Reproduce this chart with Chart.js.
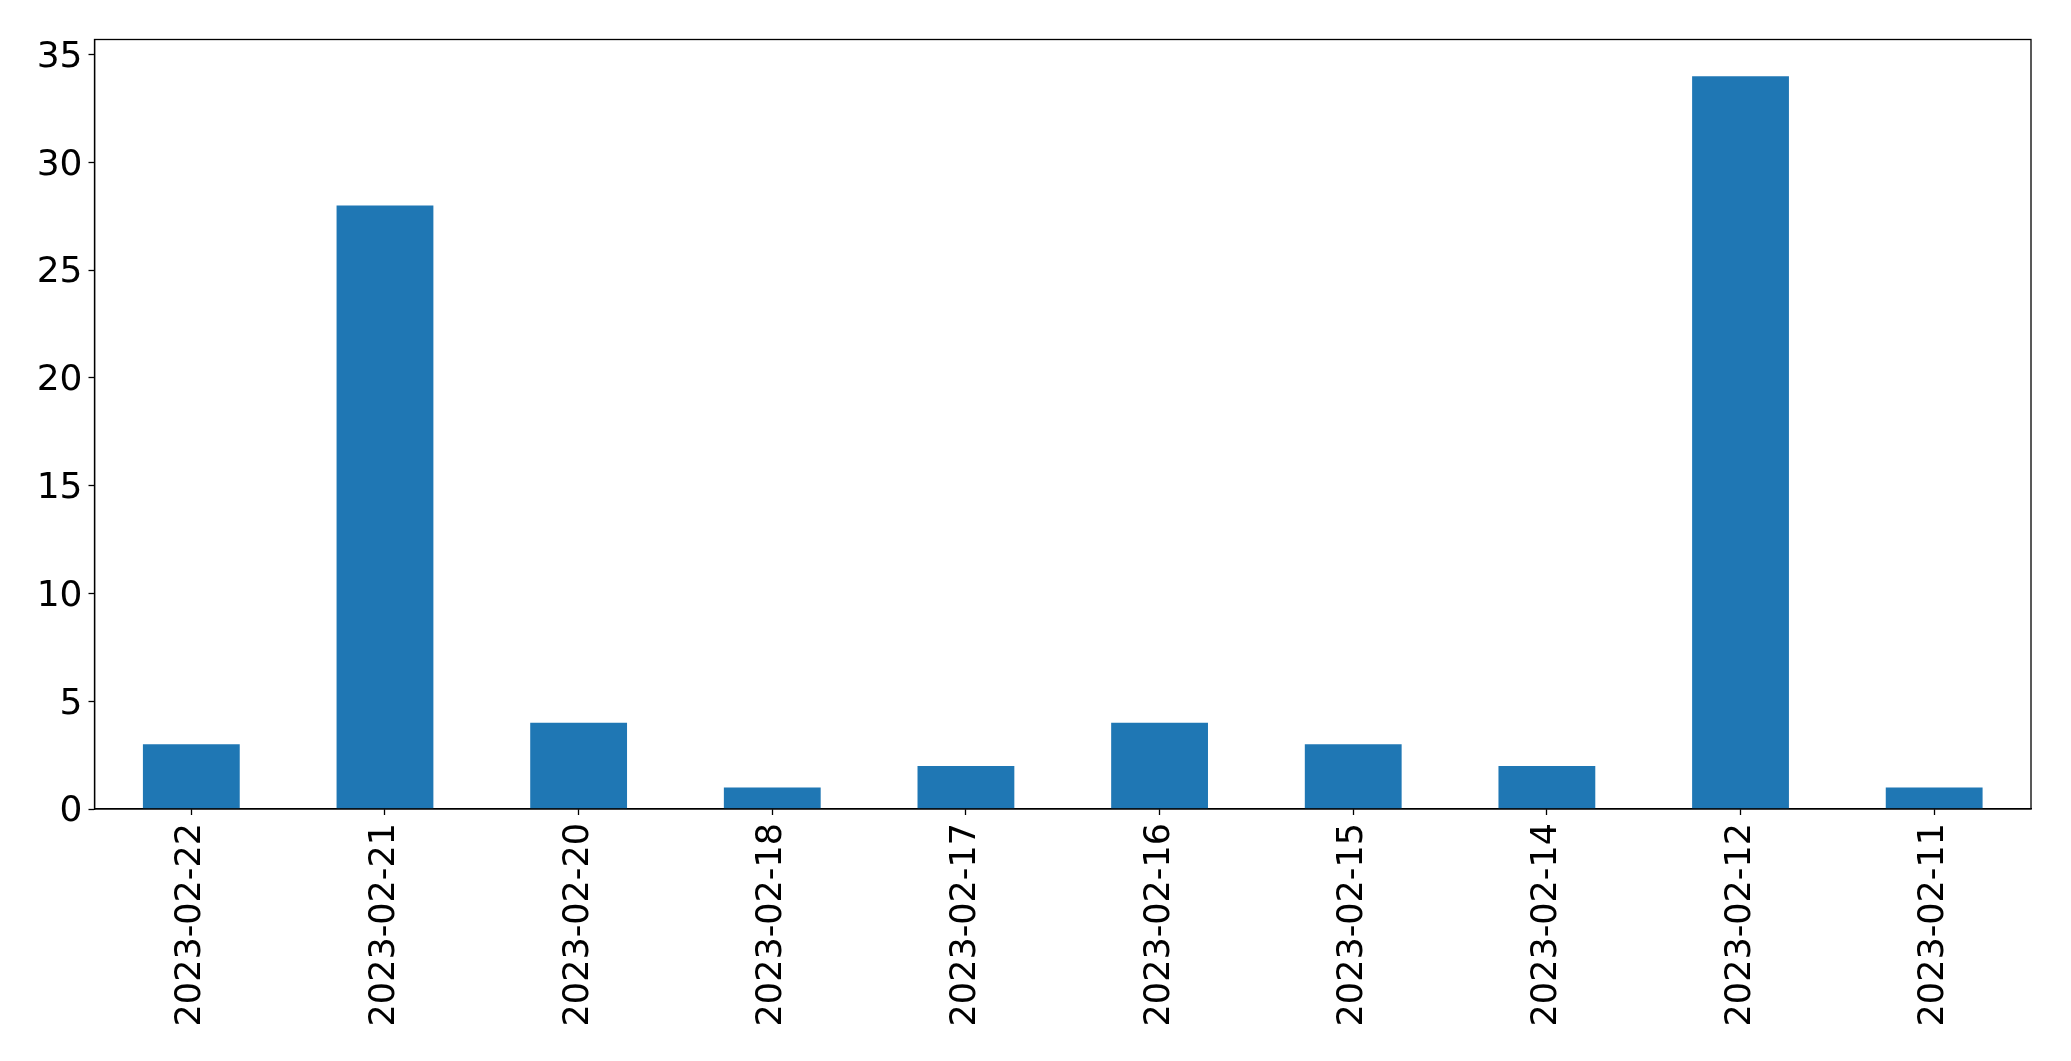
<!DOCTYPE html>
<html>
<head>
<meta charset="utf-8">
<script src="https://cdn.jsdelivr.net/npm/chart.js@4"></script>
<style>
html,body{margin:0;padding:0;background:#fff;}
#wrap{width:2071px;height:1061px;position:relative;}
</style>
</head>
<body>
<div id="wrap"><canvas id="c" width="2071" height="1061"></canvas></div>
<script>
const categories = ["2023-02-22","2023-02-21","2023-02-20","2023-02-18","2023-02-17","2023-02-16","2023-02-15","2023-02-14","2023-02-12","2023-02-11"];
const counts = [3, 28, 4, 1, 2, 4, 3, 2, 34, 1];
const yTicks = [0, 5, 10, 15, 20, 25, 30, 35];
const yMax = 35.7;

const frame = {
  id: 'frame',
  afterDraw(chart) {
    const a = chart.chartArea, ctx = chart.ctx;
    ctx.save();
    ctx.strokeStyle = '#000';
    ctx.lineWidth = 1.3;
    ctx.strokeRect(a.left, a.top, a.right - a.left, a.bottom - a.top);
    ctx.restore();
  }
};

new Chart(document.getElementById('c'), {
  type: 'bar',
  data: {
    labels: categories,
    datasets: [{
      data: counts,
      backgroundColor: '#1f77b4',
      borderWidth: 0,
      barPercentage: 0.5,
      categoryPercentage: 1.0
    }]
  },
  options: {
    responsive: false,
    animation: false,
    devicePixelRatio: 1,
    layout: { padding: { left: 0, top: 39.5, right: 40, bottom: 0 } },
    plugins: { legend: { display: false }, tooltip: { enabled: false } },
    scales: {
      x: {
        offset: true,
        grid: { display: true, drawOnChartArea: false, drawTicks: true, tickLength: 6, tickColor: '#000', offset: false, tickWidth: 1.3 },
        border: { display: true, color: '#000', width: 1.3 },
        ticks: {
          minRotation: 90, maxRotation: 90, autoSkip: false,
          color: '#000', padding: 8,
          font: { family: 'DejaVu Sans', size: 35 }
        },
        afterFit(s) { s.height = 252; }
      },
      y: {
        min: 0, max: yMax,
        grid: { display: true, drawOnChartArea: false, drawTicks: true, tickLength: 6, tickColor: '#000', tickWidth: 1.3 },
        border: { display: true, color: '#000', width: 1.3 },
        ticks: {
          color: '#000', padding: 6, stepSize: 5, labelOffset: 3,
          font: { family: 'DejaVu Sans', size: 36 }
        },
        afterBuildTicks(s) { s.ticks = yTicks.map(v => ({ value: v })); },
        afterFit(s) { s.width = 94.5; }
      }
    }
  },
  plugins: [frame]
});
</script>
</body>
</html>
